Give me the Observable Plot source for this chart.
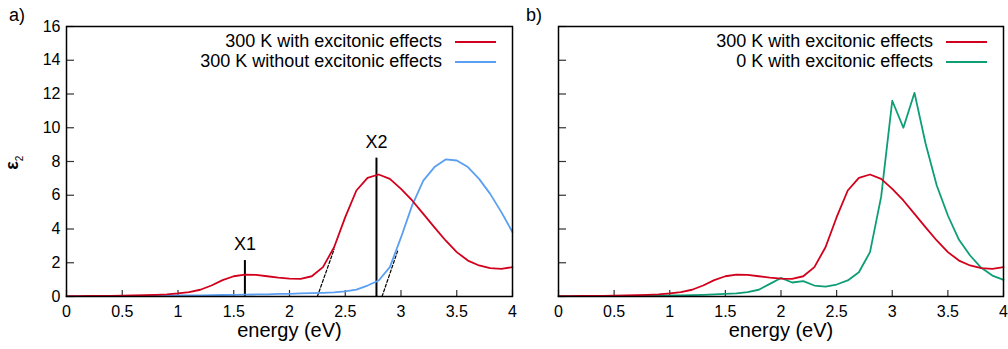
<!DOCTYPE html>
<html><head><meta charset="utf-8">
<script src="https://cdn.jsdelivr.net/npm/d3@7"></script>
<script src="https://cdn.jsdelivr.net/npm/@observablehq/plot@0.6"></script>
<style>
body{margin:0;background:#fff;font-family:"Liberation Sans",Arial,sans-serif;color:#000}
#wrap{position:relative;width:1008px;height:349px;overflow:hidden;background:#fff}
.panel{position:absolute;top:0}
.abs{position:absolute;white-space:nowrap;line-height:1}
.leg{position:absolute;font-size:18px;line-height:20px}
.leg .row{display:flex;align-items:center;justify-content:flex-end;height:20px}
.leg .sw{display:inline-block;width:41px;height:0;border-top:2px solid;margin-left:13px;position:relative;top:1px}
</style></head><body><div id="wrap"></div>
<script>
// ---- data ----
const energy = [0.0,0.1,0.2,0.3,0.4,0.5,0.6,0.7,0.8,0.9,1.0,1.1,1.2,1.3,1.4,1.5,1.6,1.7,1.8,1.9,2.0,2.1,2.2,2.3,2.4,2.5,2.6,2.7,2.8,2.9,3.0,3.1,3.2,3.3,3.4,3.5,3.6,3.7,3.8,3.9,4.0];
const eps300Exc = [0.02,0.02,0.03,0.03,0.04,0.05,0.06,0.08,0.10,0.13,0.18,0.26,0.40,0.65,0.97,1.20,1.30,1.28,1.20,1.12,1.06,1.05,1.20,1.74,2.92,4.70,6.28,7.03,7.23,6.97,6.38,5.69,4.90,4.10,3.32,2.63,2.13,1.84,1.68,1.64,1.74];
const eps300NoExc = [0.02,0.02,0.02,0.03,0.03,0.03,0.04,0.04,0.05,0.05,0.06,0.06,0.07,0.08,0.09,0.10,0.11,0.12,0.13,0.15,0.16,0.18,0.20,0.22,0.25,0.30,0.41,0.65,0.95,1.74,3.50,5.40,6.87,7.67,8.12,8.06,7.67,6.97,6.08,5.00,3.81];
const eps0Exc = [0.02,0.02,0.02,0.02,0.03,0.03,0.03,0.04,0.04,0.05,0.06,0.07,0.08,0.10,0.12,0.15,0.18,0.26,0.40,0.75,1.10,0.83,0.91,0.65,0.59,0.71,0.95,1.44,2.63,5.90,11.60,10.00,12.07,9.05,6.58,4.80,3.36,2.43,1.70,1.24,0.99];
const xTicks = [0,0.5,1,1.5,2,2.5,3,3.5,4];
const yTicks = [0,2,4,6,8,10,12,14,16];
const markerLabels = ["X1","X2"];
const markerEnergy = [1.6,2.78];
const markerTop = [2.13,8.2];
const tangent1E = [2.25,2.40], tangent1V = [0,2.8];
const tangent2E = [2.83,2.97], tangent2V = [0,2.7];
const legendA = ["300 K with excitonic effects","300 K without excitonic effects"];
const legendB = ["300 K with excitonic effects","0 K with excitonic effects"];
const RED = "#d2001c", BLUE = "#5b9ff2", GREEN = "#0d9e76";

const rows = ys => energy.map((e,i)=>({e, v: ys[i]}));
const pts = (es, vs) => es.map((e,i)=>({e, v: vs[i]}));
const markers = markerLabels.map((l,i)=>({label:l, e:markerEnergy[i], top:markerTop[i]}));

function panel({width, marginLeft, marginRight, yLabels, lines, extras=[]}) {
  return Plot.plot({
    width, height: 349,
    marginTop: 26, marginBottom: 53, marginLeft, marginRight,
    x: {domain: [0,4]},
    y: {domain: [0,16], axis: yLabels ? undefined : null},
    style: {fontFamily: "'Liberation Sans', Arial, sans-serif", fontSize: "16px", color: "#000", background: "transparent", overflow: "visible"},
    marks: [
      Plot.axisX(xTicks, {tickSize: 0, tickPadding: 9, label: null, fontSize: 16, tickFormat: d => String(d)}),
      ...(yLabels ? [Plot.axisY(yTicks, {tickSize: 0, tickPadding: 6, label: null, fontSize: 16, tickFormat: d => String(d)})] : []),
      Plot.ruleX(xTicks, {x: d=>d, y1: ()=>0, y2: ()=>0, insetTop: -6, stroke: "#333", strokeWidth: 1.2}),
      Plot.ruleY(yTicks, {y: d=>d, x1: ()=>0, x2: ()=>0, insetRight: -8, stroke: "#333", strokeWidth: 1.2}),
      ...extras,
      ...lines.map(([ys,c]) => Plot.line(rows(ys), {x: "e", y: "v", stroke: c, strokeWidth: 1.8})),
      Plot.frame({stroke: "#000", strokeWidth: 1.5}),
      Plot.text(["energy (eV)"], {frameAnchor: "bottom", dy: 40, fontSize: 20})
    ]
  });
}

const wrap = document.getElementById("wrap");
const left = panel({
  width: 520, marginLeft: 66, marginRight: 8, yLabels: true,
  lines: [[eps300NoExc, BLUE],[eps300Exc, RED]],
  extras: [
    Plot.line(pts(tangent1E, tangent1V), {x:"e", y:"v", stroke:"#000", strokeWidth:1.2, strokeDasharray:"3,2"}),
    Plot.line(pts(tangent2E, tangent2V), {x:"e", y:"v", stroke:"#000", strokeWidth:1.2, strokeDasharray:"3,2"}),
    Plot.ruleX(markers, {x:"e", y1: ()=>0, y2:"top", stroke:"#000", strokeWidth:2}),
    Plot.text(markers, {x:"e", y:"top", text:"label", dy:-16, fontSize:18})
  ]
});
left.classList.add("panel"); left.style.left = "0px";
const right = panel({
  width: 488, marginLeft: 38, marginRight: 5, yLabels: false,
  lines: [[eps0Exc, GREEN],[eps300Exc, RED]]
});
right.classList.add("panel"); right.style.left = "520px";
wrap.appendChild(left); wrap.appendChild(right);

function addText(t, x, y, css) {
  const d = document.createElement("div");
  d.className = "abs"; d.textContent = t;
  d.style.left = x + "px"; d.style.top = y + "px";
  Object.assign(d.style, css || {});
  wrap.appendChild(d);
  return d;
}
addText("a)", 9, 6, {fontSize: "18px"});
addText("b)", 526, 6, {fontSize: "18px"});
const eps = addText("", 7, 152, {fontSize: "18px", fontWeight: "bold", transform: "rotate(-90deg)", transformOrigin: "center"});
eps.innerHTML = "ε<sub style='font-size:10px;font-weight:normal'>2</sub>";

function legend(labels, colors, rightEdge) {
  const d = document.createElement("div");
  d.className = "leg";
  d.style.right = (1008 - rightEdge) + "px";
  d.style.top = "31px";
  labels.forEach((l,i)=>{
    const r = document.createElement("div"); r.className = "row";
    const s = document.createElement("span"); s.textContent = l;
    const sw = document.createElement("span"); sw.className = "sw"; sw.style.borderTopColor = colors[i];
    r.appendChild(s); r.appendChild(sw); d.appendChild(r);
  });
  wrap.appendChild(d);
}
legend(legendA, [RED, BLUE], 496);
legend(legendB, [RED, GREEN], 987);
</script></body></html>
